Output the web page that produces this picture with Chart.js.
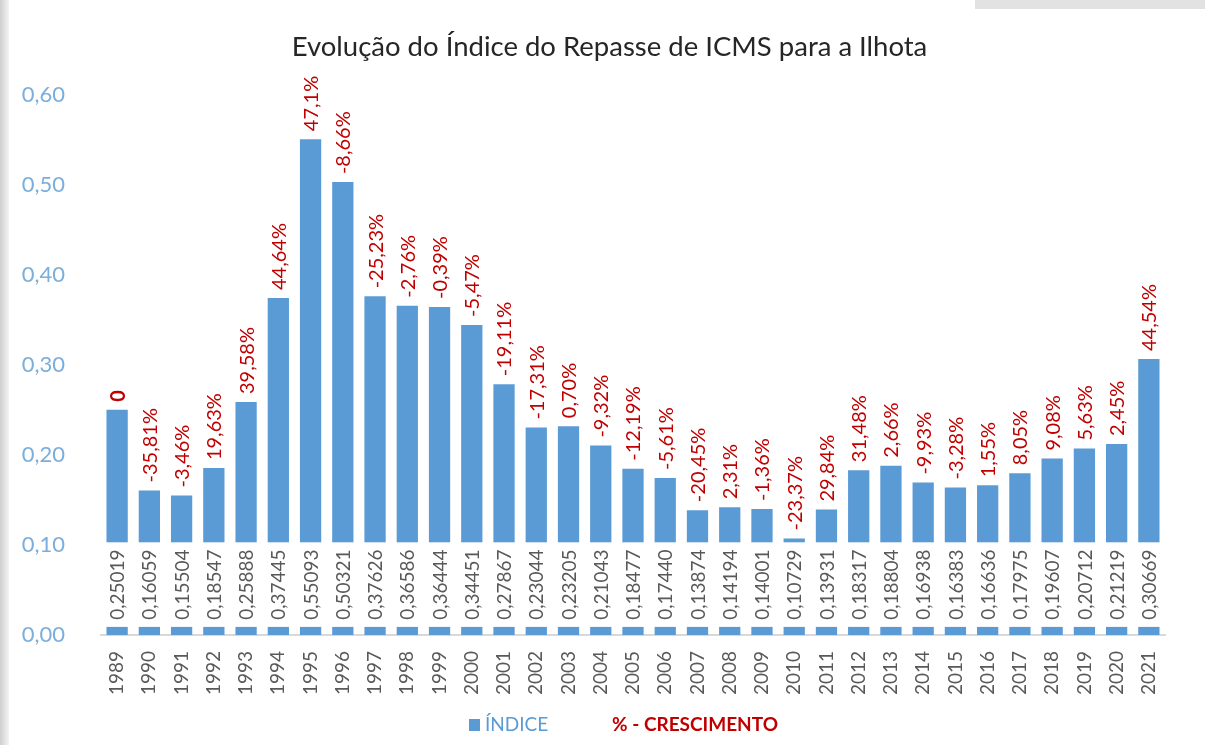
<!DOCTYPE html>
<html>
<head>
<meta charset="utf-8">
<script src="https://cdn.jsdelivr.net/npm/chart.js@4.4.0/dist/chart.umd.min.js"></script>
<style>
  html, body { margin: 0; padding: 0; background: #fff; }
  #box { width: 1205px; height: 745px; }
</style>
</head>
<body>
<div id="box"><canvas id="myChart"></canvas></div>
<script>
var anos = ["1989","1990","1991","1992","1993","1994","1995","1996","1997","1998","1999",
  "2000","2001","2002","2003","2004","2005","2006","2007","2008","2009","2010",
  "2011","2012","2013","2014","2015","2016","2017","2018","2019","2020","2021"];
var indice = [0.25019,0.16059,0.15504,0.18547,0.25888,0.37445,0.55093,0.50321,0.37626,0.36586,0.36444,
  0.34451,0.27867,0.23044,0.23205,0.21043,0.18477,0.17440,0.13874,0.14194,0.14001,0.10729,
  0.13931,0.18317,0.18804,0.16938,0.16383,0.16636,0.17975,0.19607,0.20712,0.21219,0.30669];
var crescimento = ["0","-35,81%","-3,46%","19,63%","39,58%","44,64%","47,1%","-8,66%","-25,23%","-2,76%","-0,39%",
  "-5,47%","-19,11%","-17,31%","0,70%","-9,32%","-12,19%","-5,61%","-20,45%","2,31%","-1,36%","-23,37%",
  "29,84%","31,48%","2,66%","-9,93%","-3,28%","1,55%","8,05%","9,08%","5,63%","2,45%","44,54%"];
var yTicks = [0, 0.1, 0.2, 0.3, 0.4, 0.5, 0.6];

var fonte = "Lato, 'Open Sans', sans-serif";
var azul = "#5b9bd5";
var vermelho = "#c00000";

/* fundo e moldura */
var fundo = {
  id: 'fundo',
  beforeDraw: function(chart) {
    var ctx = chart.ctx;
    ctx.save();
    ctx.fillStyle = "#fff";
    ctx.fillRect(0, 0, chart.width, chart.height);
    var g = ctx.createLinearGradient(0, 0, 9, 0);
    g.addColorStop(0, "#cfcfcf");
    g.addColorStop(1, "#f4f4f4");
    ctx.fillStyle = g;
    ctx.fillRect(0, 0, 9, chart.height);
    ctx.fillStyle = "#e2e2e2";
    ctx.fillRect(975, 0, chart.width - 975, 9);
    ctx.restore();
  }
};

/* rotulos: valor dentro da barra e % acima */
var rotulos = {
  id: 'rotulos',
  afterDatasetsDraw: function(chart) {
    var ctx = chart.ctx;
    var y = chart.scales.y;
    var meta = chart.getDatasetMeta(0);
    var yTop = y.getPixelForValue(0.103);
    var yBot = y.getPixelForValue(0.009);
    ctx.save();
    meta.data.forEach(function(bar, i) {
      var w = bar.width;
      ctx.fillStyle = "#fff";
      ctx.fillRect(bar.x - w / 2 - 1, yTop, w + 2, yBot - yTop);

      ctx.save();
      ctx.translate(bar.x + 1, (yTop + yBot) / 2);
      ctx.rotate(-Math.PI / 2);
      ctx.fillStyle = "#595959";
      ctx.font = "19px " + fonte;
      ctx.textAlign = "center";
      ctx.textBaseline = "middle";
      ctx.fillText(indice[i].toFixed(5).replace(".", ","), 0, 0);
      ctx.restore();

      ctx.save();
      ctx.translate(bar.x + 1, bar.y - 8);
      ctx.rotate(-Math.PI / 2);
      ctx.fillStyle = vermelho;
      ctx.font = (i === 0 ? "bold " : "") + "20px " + fonte;
      ctx.textAlign = "left";
      ctx.textBaseline = "middle";
      ctx.fillText(crescimento[i], 0, 0);
      ctx.restore();
    });

    // legenda
    var ly = 725;
    ctx.fillStyle = azul;
    ctx.fillRect(469, ly - 6, 11, 12);
    ctx.font = "19px " + fonte;
    ctx.textAlign = "left";
    ctx.textBaseline = "middle";
    ctx.fillText("ÍNDICE", 485, ly);
    ctx.fillStyle = vermelho;
    ctx.font = "bold 19px " + fonte;
    ctx.fillText("% - CRESCIMENTO", 612, ly);
    ctx.restore();
  }
};

var chart = new Chart(document.getElementById("myChart"), {
  type: 'bar',
  data: {
    labels: anos,
    datasets: [{
      label: "ÍNDICE",
      data: indice,
      backgroundColor: azul,
      barPercentage: 0.66,
      categoryPercentage: 1.0
    }]
  },
  options: {
    responsive: true,
    maintainAspectRatio: false,
    animation: false,
    layout: { padding: { left: 14, right: 0, top: 0, bottom: 0 } },
    plugins: {
      legend: { display: false },
      tooltip: { enabled: false },
      title: {
        display: true,
        text: "Evolução do Índice do Repasse de ICMS para a Ilhota",
        color: "#262626",
        font: { family: fonte, size: 27.5, weight: 'normal' },
        padding: { top: 31, bottom: 31 }
      }
    },
    scales: {
      x: {
        grid: { display: false },
        border: { display: true, color: "#d9d9d9", width: 2 },
        ticks: {
          color: "#595959",
          font: { family: fonte, size: 19 },
          minRotation: 90,
          maxRotation: 90,
          autoSkip: false,
          padding: 8
        },
        afterFit: function(scale) { scale.height = 110; }
      },
      y: {
        min: 0,
        max: 0.6,
        grid: { display: false },
        border: { display: false },
        afterBuildTicks: function(scale) {
          scale.ticks = yTicks.map(function(v) { return { value: v }; });
        },
        ticks: {
          color: "#7aaedc",
          font: { family: fonte, size: 22 },
          padding: 28,
          callback: function(v) { return v.toFixed(2).replace(".", ","); }
        },
        afterFit: function(scale) { scale.width = 87; }
      },
      y2: {
        position: 'right',
        min: 0,
        max: 0.6,
        grid: { display: false },
        border: { display: false },
        ticks: { display: false },
        afterFit: function(scale) { scale.width = 40; }
      }
    }
  },
  plugins: [fundo, rotulos]
});
</script>
</body>
</html>
